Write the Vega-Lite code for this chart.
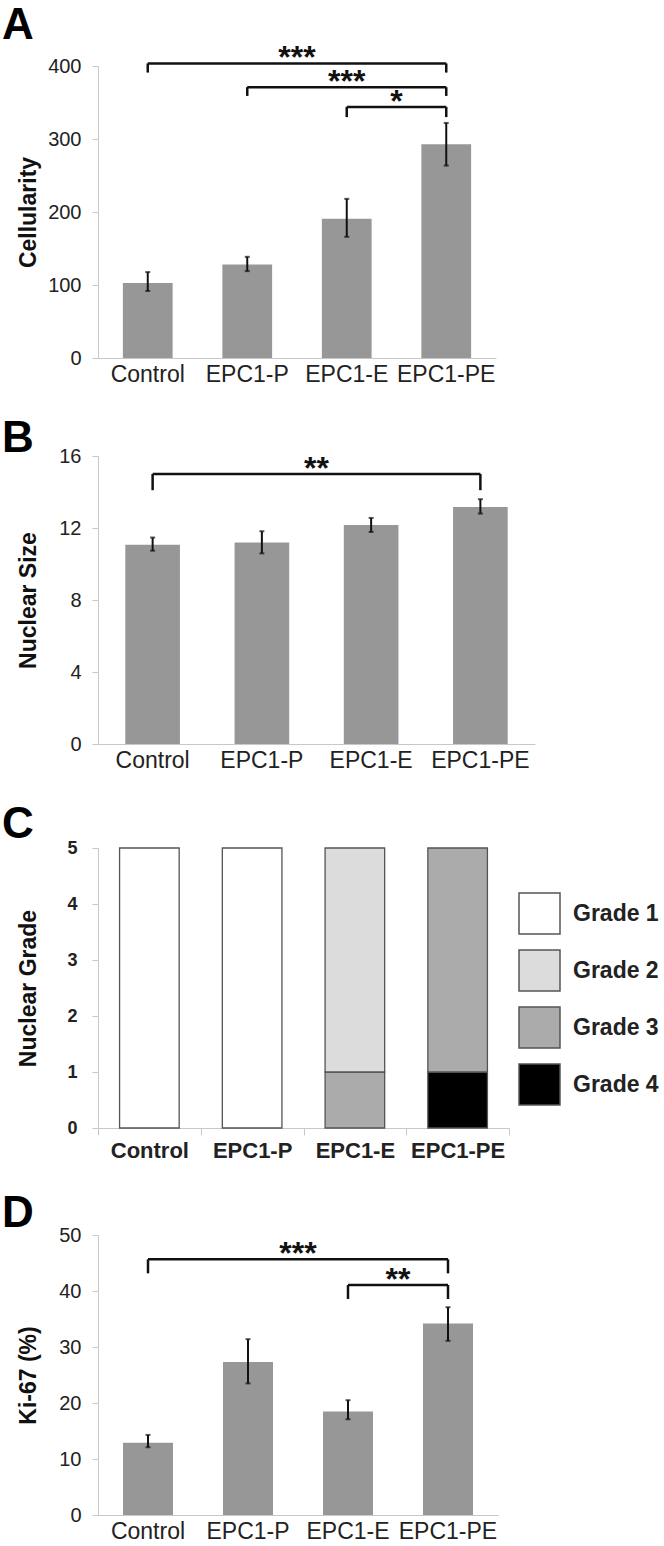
{
  "$schema": "https://vega.github.io/schema/vega-lite/v6.json",
  "padding": {"left": 2, "top": 4, "right": 0, "bottom": 0},
  "spacing": 31,
  "resolve": {"scale": {"color": "independent"}, "legend": {"color": "independent"}},
  "config": {
    "font": "Liberation Sans",
    "view": {"stroke": null},
    "title": {"fontSize": 44, "fontWeight": "bold", "font": "Liberation Sans", "color": "#000000", "anchor": "start", "frame": "group", "dx": -96},
    "axis": {"labelFont": "Liberation Sans", "titleFont": "Liberation Sans", "labelColor": "#222222", "titleColor": "#111111", "domainColor": "#c8c8c8", "tickColor": "#c8c8c8", "grid": false},
    "axisX": {"labelAngle": 0, "ticks": false, "title": null, "labelFontSize": 23, "labelPadding": 5},
    "axisY": {"tickSize": 6, "labelFontSize": 20, "labelPadding": 11, "titleFontSize": 23, "titleFontWeight": "bold"}
  },
  "datasets": {
    "cellularity": [
      {"group": "Control", "mean": 102.7, "lo": 91.8, "hi": 117.7},
      {"group": "EPC1-P", "mean": 128.2, "lo": 119, "hi": 138.6},
      {"group": "EPC1-E", "mean": 190.9, "lo": 166, "hi": 218},
      {"group": "EPC1-PE", "mean": 292.7, "lo": 263.6, "hi": 322}
    ],
    "sigA": [
      {"from": "Control", "to": "EPC1-PE", "top": 403.5, "bot": 391, "stars": "***", "mid": "EPC1-E", "midAt": "edge"},
      {"from": "EPC1-P", "to": "EPC1-PE", "top": 371, "bot": 359, "stars": "***", "mid": "EPC1-E", "midAt": "center"},
      {"from": "EPC1-E", "to": "EPC1-PE", "top": 344, "bot": 330, "stars": "*", "mid": "EPC1-PE", "midAt": "edge"}
    ],
    "nuclearSize": [
      {"group": "Control", "mean": 11.07, "lo": 10.74, "hi": 11.47},
      {"group": "EPC1-P", "mean": 11.2, "lo": 10.59, "hi": 11.82},
      {"group": "EPC1-E", "mean": 12.17, "lo": 11.78, "hi": 12.56},
      {"group": "EPC1-PE", "mean": 13.17, "lo": 12.8, "hi": 13.6}
    ],
    "sigB": [
      {"from": "Control", "to": "EPC1-PE", "top": 15.0, "bot": 14.1, "stars": "**", "mid": "EPC1-E", "midAt": "edge"}
    ],
    "grade": [
      {"group": "Control", "grade": "Grade 1", "count": 5},
      {"group": "EPC1-P", "grade": "Grade 1", "count": 5},
      {"group": "EPC1-E", "grade": "Grade 3", "count": 1},
      {"group": "EPC1-E", "grade": "Grade 2", "count": 4},
      {"group": "EPC1-PE", "grade": "Grade 4", "count": 1},
      {"group": "EPC1-PE", "grade": "Grade 3", "count": 4}
    ],
    "ki67": [
      {"group": "Control", "mean": 12.9, "lo": 12.1, "hi": 14.3},
      {"group": "EPC1-P", "mean": 27.3, "lo": 23.5, "hi": 31.4},
      {"group": "EPC1-E", "mean": 18.5, "lo": 17.1, "hi": 20.5},
      {"group": "EPC1-PE", "mean": 34.2, "lo": 31.1, "hi": 37.1}
    ],
    "sigD": [
      {"from": "Control", "to": "EPC1-PE", "top": 45.65, "bot": 43.15, "stars": "***", "mid": "EPC1-E", "midAt": "edge"},
      {"from": "EPC1-E", "to": "EPC1-PE", "top": 41.07, "bot": 38.57, "stars": "**", "mid": "EPC1-PE", "midAt": "edge"}
    ]
  },
  "vconcat": [
    {
      "title": {"text": "A", "offset": -6},
      "width": 398,
      "height": 292,
      "layer": [
        {"data": {"name": "cellularity"}, "mark": {"type": "bar", "color": "#979797", "width": {"band": 0.5}},
         "encoding": {
           "x": {"field": "group", "type": "nominal", "scale": {"type": "band", "domain": ["Control", "EPC1-P", "EPC1-E", "EPC1-PE"], "paddingInner": 0, "paddingOuter": 0}},
           "y": {"field": "mean", "type": "quantitative", "scale": {"domain": [0, 400], "nice": false}, "axis": {"title": "Cellularity", "values": [0, 100, 200, 300, 400], "titleX": -70, "titleBaseline": "middle"}}}},
        {"data": {"name": "cellularity"}, "mark": {"type": "rule", "color": "#111111", "strokeWidth": 2},
         "encoding": {"x": {"field": "group", "type": "nominal"}, "y": {"field": "lo", "type": "quantitative"}, "y2": {"field": "hi"}}},
        {"data": {"name": "cellularity"}, "mark": {"type": "tick", "color": "#111111", "size": 5, "thickness": 2},
         "encoding": {"x": {"field": "group", "type": "nominal"}, "y": {"field": "lo", "type": "quantitative"}}},
        {"data": {"name": "cellularity"}, "mark": {"type": "tick", "color": "#111111", "size": 5, "thickness": 2},
         "encoding": {"x": {"field": "group", "type": "nominal"}, "y": {"field": "hi", "type": "quantitative"}}},
        {"data": {"name": "sigA"}, "mark": {"type": "rule", "color": "#111111", "strokeWidth": 2.5},
         "encoding": {"x": {"field": "from", "type": "nominal"}, "x2": {"field": "to"}, "y": {"field": "top", "type": "quantitative"}}},
        {"data": {"name": "sigA"}, "mark": {"type": "rule", "color": "#111111", "strokeWidth": 2.5},
         "encoding": {"x": {"field": "from", "type": "nominal"}, "y": {"field": "bot", "type": "quantitative"}, "y2": {"field": "top"}}},
        {"data": {"name": "sigA"}, "mark": {"type": "rule", "color": "#111111", "strokeWidth": 2.5},
         "encoding": {"x": {"field": "to", "type": "nominal"}, "y": {"field": "bot", "type": "quantitative"}, "y2": {"field": "top"}}},
        {"data": {"name": "sigA"}, "transform": [{"filter": "datum.midAt === 'center'"}],
         "mark": {"type": "text", "fontSize": 32, "fontWeight": "bold", "color": "#111111", "baseline": "alphabetic", "dy": 5},
         "encoding": {"x": {"field": "mid", "type": "nominal", "bandPosition": 0.5}, "y": {"field": "top", "type": "quantitative"}, "text": {"field": "stars"}}},
        {"data": {"name": "sigA"}, "transform": [{"filter": "datum.midAt === 'edge'"}],
         "mark": {"type": "text", "fontSize": 32, "fontWeight": "bold", "color": "#111111", "baseline": "alphabetic", "dy": 5},
         "encoding": {"x": {"field": "mid", "type": "nominal", "bandPosition": 0}, "y": {"field": "top", "type": "quantitative"}, "text": {"field": "stars"}}}
      ]
    },
    {
      "title": {"text": "B", "offset": -15},
      "width": 437,
      "height": 288,
      "layer": [
        {"data": {"name": "nuclearSize"}, "mark": {"type": "bar", "color": "#979797", "width": {"band": 0.5}},
         "encoding": {
           "x": {"field": "group", "type": "nominal", "scale": {"type": "band", "domain": ["Control", "EPC1-P", "EPC1-E", "EPC1-PE"], "paddingInner": 0, "paddingOuter": 0}},
           "y": {"field": "mean", "type": "quantitative", "scale": {"domain": [0, 16], "nice": false}, "axis": {"title": "Nuclear Size", "values": [0, 4, 8, 12, 16], "titleX": -70, "titleBaseline": "middle"}}}},
        {"data": {"name": "nuclearSize"}, "mark": {"type": "rule", "color": "#111111", "strokeWidth": 2},
         "encoding": {"x": {"field": "group", "type": "nominal"}, "y": {"field": "lo", "type": "quantitative"}, "y2": {"field": "hi"}}},
        {"data": {"name": "nuclearSize"}, "mark": {"type": "tick", "color": "#111111", "size": 5, "thickness": 2},
         "encoding": {"x": {"field": "group", "type": "nominal"}, "y": {"field": "lo", "type": "quantitative"}}},
        {"data": {"name": "nuclearSize"}, "mark": {"type": "tick", "color": "#111111", "size": 5, "thickness": 2},
         "encoding": {"x": {"field": "group", "type": "nominal"}, "y": {"field": "hi", "type": "quantitative"}}},
        {"data": {"name": "sigB"}, "mark": {"type": "rule", "color": "#111111", "strokeWidth": 2.5},
         "encoding": {"x": {"field": "from", "type": "nominal"}, "x2": {"field": "to"}, "y": {"field": "top", "type": "quantitative"}}},
        {"data": {"name": "sigB"}, "mark": {"type": "rule", "color": "#111111", "strokeWidth": 2.5},
         "encoding": {"x": {"field": "from", "type": "nominal"}, "y": {"field": "bot", "type": "quantitative"}, "y2": {"field": "top"}}},
        {"data": {"name": "sigB"}, "mark": {"type": "rule", "color": "#111111", "strokeWidth": 2.5},
         "encoding": {"x": {"field": "to", "type": "nominal"}, "y": {"field": "bot", "type": "quantitative"}, "y2": {"field": "top"}}},
        {"data": {"name": "sigB"}, "transform": [{"filter": "datum.midAt === 'edge'"}],
         "mark": {"type": "text", "fontSize": 32, "fontWeight": "bold", "color": "#111111", "baseline": "alphabetic", "dy": 5},
         "encoding": {"x": {"field": "mid", "type": "nominal", "bandPosition": 0}, "y": {"field": "top", "type": "quantitative"}, "text": {"field": "stars"}}}
      ]
    },
    {
      "title": {"text": "C", "offset": -8},
      "width": 411,
      "height": 280,
      "data": {"name": "grade"},
      "mark": {"type": "bar", "width": {"band": 0.58}, "stroke": "#555555", "strokeWidth": 1.3},
      "encoding": {
        "x": {"field": "group", "type": "nominal",
              "scale": {"type": "band", "domain": ["Control", "EPC1-P", "EPC1-E", "EPC1-PE"], "paddingInner": 0, "paddingOuter": 0},
              "axis": {"ticks": true, "tickSize": 7, "tickBand": "extent", "labelFontWeight": "bold", "labelFontSize": 22, "labelPadding": 5}},
        "y": {"field": "count", "type": "quantitative", "scale": {"domain": [0, 5], "nice": false},
              "axis": {"title": "Nuclear Grade", "values": [0, 1, 2, 3, 4, 5], "labelFontWeight": "bold", "labelFontSize": 18, "labelPadding": 15, "titleX": -70, "titleBaseline": "middle"}},
        "color": {"field": "grade", "type": "nominal",
                  "scale": {"domain": ["Grade 1", "Grade 2", "Grade 3", "Grade 4"], "range": ["#ffffff", "#dcdcdc", "#ababab", "#000000"]},
                  "legend": {"orient": "none", "legendX": 420, "legendY": 44, "title": null, "symbolType": "square", "symbolSize": 1681,
                             "symbolStrokeColor": "#555555", "symbolStrokeWidth": 1.5, "symbolOpacity": 1, "labelFontSize": 23, "labelFontWeight": "bold",
                             "labelFont": "Liberation Sans", "labelColor": "#222222", "rowPadding": 10, "labelOffset": 12, "padding": 0}},
        "order": {"field": "grade", "sort": "descending"}
      }
    },
    {
      "title": {"text": "D", "offset": -11},
      "width": 400,
      "height": 280,
      "layer": [
        {"data": {"name": "ki67"}, "mark": {"type": "bar", "color": "#979797", "width": {"band": 0.5}},
         "encoding": {
           "x": {"field": "group", "type": "nominal", "scale": {"type": "band", "domain": ["Control", "EPC1-P", "EPC1-E", "EPC1-PE"], "paddingInner": 0, "paddingOuter": 0}},
           "y": {"field": "mean", "type": "quantitative", "scale": {"domain": [0, 50], "nice": false}, "axis": {"title": "Ki-67 (%)", "values": [0, 10, 20, 30, 40, 50], "titleX": -70, "titleBaseline": "middle"}}}},
        {"data": {"name": "ki67"}, "mark": {"type": "rule", "color": "#111111", "strokeWidth": 2},
         "encoding": {"x": {"field": "group", "type": "nominal"}, "y": {"field": "lo", "type": "quantitative"}, "y2": {"field": "hi"}}},
        {"data": {"name": "ki67"}, "mark": {"type": "tick", "color": "#111111", "size": 5, "thickness": 2},
         "encoding": {"x": {"field": "group", "type": "nominal"}, "y": {"field": "lo", "type": "quantitative"}}},
        {"data": {"name": "ki67"}, "mark": {"type": "tick", "color": "#111111", "size": 5, "thickness": 2},
         "encoding": {"x": {"field": "group", "type": "nominal"}, "y": {"field": "hi", "type": "quantitative"}}},
        {"data": {"name": "sigD"}, "mark": {"type": "rule", "color": "#111111", "strokeWidth": 2.5},
         "encoding": {"x": {"field": "from", "type": "nominal"}, "x2": {"field": "to"}, "y": {"field": "top", "type": "quantitative"}}},
        {"data": {"name": "sigD"}, "mark": {"type": "rule", "color": "#111111", "strokeWidth": 2.5},
         "encoding": {"x": {"field": "from", "type": "nominal"}, "y": {"field": "bot", "type": "quantitative"}, "y2": {"field": "top"}}},
        {"data": {"name": "sigD"}, "mark": {"type": "rule", "color": "#111111", "strokeWidth": 2.5},
         "encoding": {"x": {"field": "to", "type": "nominal"}, "y": {"field": "bot", "type": "quantitative"}, "y2": {"field": "top"}}},
        {"data": {"name": "sigD"}, "transform": [{"filter": "datum.midAt === 'edge'"}],
         "mark": {"type": "text", "fontSize": 32, "fontWeight": "bold", "color": "#111111", "baseline": "alphabetic", "dy": 5},
         "encoding": {"x": {"field": "mid", "type": "nominal", "bandPosition": 0}, "y": {"field": "top", "type": "quantitative"}, "text": {"field": "stars"}}}
      ]
    }
  ]
}
